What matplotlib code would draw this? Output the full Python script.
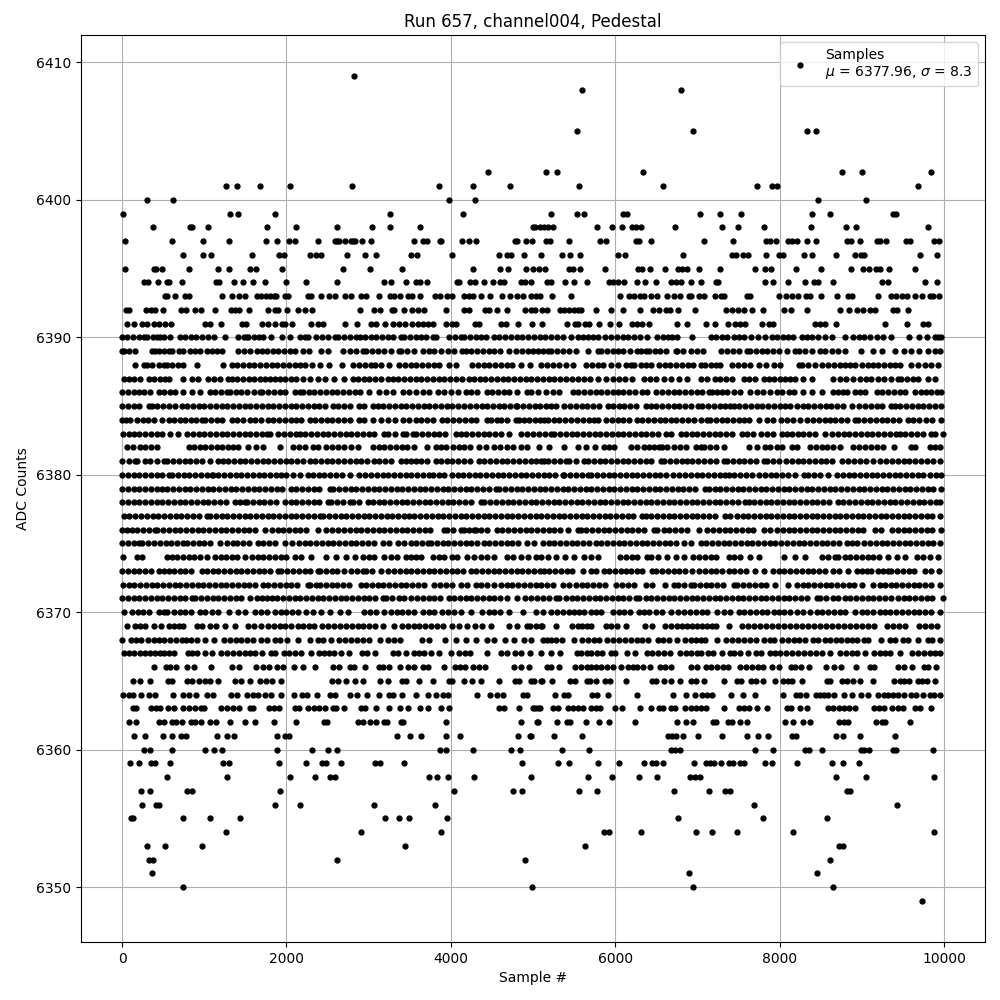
import matplotlib
matplotlib.use('Agg')
import matplotlib.pyplot as plt

# sample numbers found at each ADC count
s6409 = [2820]
s6408 = [5596, 6796]
s6405 = [5535, 6941, 8335, 8444]
s6402 = [4456, 5159, 5293, 6335, 8759, 9002, 9838]
s6401 = [1269, 1402, 1681, 2044, 2796, 3850, 4274, 4723, 5560, 6578, 7729, 7911, 7972, 9680]
s6400 = [299, 614, 3983, 4299, 8468, 9050]
s6399 = [8, 1317, 1414, 1862, 3256, 4153, 5220, 5535, 5620, 6093, 6141, 7026, 7269, 7535, 8396, 8614, 9377, 9414]
s6398 = [372, 832, 856, 1050, 1765, 2117, 2614, 3038, 3256, 3620, 5002, 5026, 5086, 5136, 5177, 5244, 5778, 5960, 6081, 6202, 6250, 6311, 6723, 7305, 7499, 7814, 8384, 8808, 8929, 9802]
s6397 = [32, 602, 990, 1305, 1753, 1887, 2032, 2105, 2384, 2590, 2614, 2638, 2711, 2784, 2808, 2832, 2917, 3026, 3547, 3656, 3705, 3862, 3886, 4141, 4226, 4311, 4783, 4808, 4917, 4989, 5160, 5208, 5438, 5814, 5887, 6250, 6287, 6432, 7075, 7438, 7838, 7887, 7959, 8105, 8153, 8214, 8335, 8444, 8820, 8868, 8977, 9183, 9220, 9293, 9535, 9583, 9874, 9935]
s6396 = [747, 990, 1087, 1584, 1911, 1972, 2287, 2359, 2420, 2735, 2953, 3087, 3511, 3583, 4020, 4589, 4686, 4735, 4892, 5099, 5354, 5451, 5572, 6032, 6117, 6820, 7426, 7475, 7559, 7620, 7838, 7996, 8044, 8299, 8396, 8687, 8917, 8990, 9026, 9705, 9911]
s6395 = [32, 384, 408, 481, 820, 1172, 1305, 1559, 1632, 1947, 2687, 3014, 3402, 4274, 4602, 4699, 4917, 5002, 5075, 5148, 5438, 5487, 5572, 5875, 6275, 6323, 6420, 6602, 6760, 6808, 6869, 7014, 7269, 7705, 7826, 7899, 8202, 8505, 8868, 9014, 9087, 9171, 9220, 9329, 9644]
s6394 = [263, 311, 432, 541, 566, 723, 1147, 1184, 1366, 1475, 1596, 1741, 1996, 2238, 2614, 3184, 3272, 3450, 3571, 3620, 3705, 4080, 4105, 4238, 4299, 4408, 4517, 4602, 4650, 4856, 4905, 4978, 5172, 5220, 5390, 5499, 5657, 5923, 5972, 6032, 6105, 6263, 6360, 6493, 6675, 6735, 6796, 6917, 7038, 7220, 7256, 7826, 7923, 8105, 8311, 8420, 8468, 8650, 9244, 9317, 9765, 9911]
s6393 = [517, 541, 638, 760, 808, 1220, 1341, 1426, 1499, 1644, 1693, 1753, 1802, 1850, 1875, 1984, 2020, 2262, 2299, 2420, 2517, 2590, 2711, 2784, 2905, 2965, 3123, 3256, 3305, 3377, 3474, 3523, 3620, 3802, 3874, 3959, 4008, 4165, 4226, 4274, 4371, 4472, 4626, 4723, 4808, 4880, 4978, 5038, 5087, 5232, 5463, 6057, 6166, 6226, 6299, 6347, 6432, 6505, 6626, 6711, 6784, 6893, 6917, 7014, 7075, 7208, 7281, 7329, 7608, 7644, 7996, 8081, 8153, 8226, 8323, 8372, 8505, 8699, 8832, 8880, 9196, 9353, 9414, 9487, 9547, 9644, 9729, 9826, 9862, 9935]
s6392 = [44, 81, 287, 347, 396, 493, 711, 772, 881, 966, 1135, 1329, 1378, 1426, 1547, 1778, 1862, 1899, 2008, 2141, 2226, 2311, 2893, 3062, 3135, 3280, 3305, 3426, 3523, 3596, 3668, 3947, 4165, 4226, 4420, 4468, 4565, 4686, 4905, 4978, 5026, 5111, 5172, 5329, 5378, 5438, 5499, 5547, 5584, 5766, 5947, 6093, 6299, 6457, 6529, 6614, 6662, 6760, 6966, 7353, 7426, 7499, 7572, 7668, 7802, 8056, 8141, 8335, 8735, 8844, 8941, 9014, 9099, 9159, 9377, 9426, 9559]
s6391 = [57, 141, 238, 299, 384, 444, 517, 590, 1014, 1075, 1208, 1462, 1511, 1705, 1778, 1862, 1947, 1984, 2068, 2299, 2384, 2444, 2711, 2856, 3026, 3087, 3196, 3293, 3365, 3438, 3523, 3596, 3656, 3717, 3777, 3935, 4008, 4068, 4299, 4347, 4614, 4674, 4820, 4990, 5111, 5414, 5511, 5547, 5632, 5681, 5802, 5935, 6044, 6202, 6263, 6323, 6408, 6747, 6869, 7099, 7208, 7377, 7462, 7523, 7584, 7790, 7875, 7923, 8432, 8493, 8553, 8687, 9280, 9547, 9741, 9802]
s6390 = [0, 60, 130, 200, 263, 303, 370, 430, 465, 505, 586, 707, 770, 840, 905, 975, 1050, 1123, 1252, 1414, 1480, 1515, 1535, 1600, 1660, 1717, 1814, 1947, 2044, 2161, 2220, 2262, 2363, 2430, 2500, 2586, 2626, 2700, 2770, 2848, 2889, 2960, 3030, 3091, 3160, 3230, 3300, 3394, 3434, 3500, 3580, 3636, 3700, 3777, 3818, 3980, 4050, 4120, 4160, 4230, 4300, 4370, 4424, 4525, 4590, 4660, 4730, 4800, 4870, 4940, 5010, 5080, 5150, 5220, 5290, 5360, 5463, 5543, 5604, 5670, 5730, 5786, 5879, 5950, 6020, 6090, 6160, 6230, 6300, 6392, 6513, 6580, 6640, 6695, 6755, 6929, 7160, 7230, 7300, 7361, 7442, 7500, 7563, 7652, 7740, 7826, 7907, 7970, 8040, 8100, 8169, 8270, 8330, 8392, 8473, 8550, 8634, 8796, 8897, 8960, 9030, 9100, 9180, 9260, 9361, 9575, 9693, 9794, 9887, 9930, 9967]
s6389 = [0, 20, 81, 162, 364, 404, 444, 510, 570, 606, 687, 747, 828, 890, 950, 1030, 1090, 1150, 1212, 1414, 1480, 1555, 1636, 1700, 1760, 1830, 1900, 1970, 2040, 2100, 2198, 2279, 2424, 2505, 2687, 2768, 2840, 2929, 2970, 3040, 3110, 3192, 3273, 3373, 3394, 3470, 3555, 3656, 3730, 3800, 3880, 3960, 4040, 4141, 4181, 4250, 4320, 4390, 4460, 4530, 4600, 4707, 4788, 4860, 4937, 5000, 5060, 5120, 5179, 5220, 5290, 5360, 5440, 5523, 5664, 5785, 5826, 5900, 5967, 6028, 6100, 6180, 6270, 6311, 6371, 6412, 6480, 6550, 6620, 6735, 6755, 6830, 6920, 6998, 7066, 7288, 7360, 7430, 7510, 7603, 7644, 7710, 7780, 7850, 7920, 7987, 8088, 8189, 8230, 8310, 8391, 8492, 8553, 8634, 8710, 8795, 8989, 9139, 9240, 9401, 9510, 9603, 9700, 9805, 9887, 9947]
s6388 = [161, 262, 303, 363, 444, 505, 545, 610, 680, 747, 909, 1232, 1333, 1400, 1470, 1540, 1610, 1680, 1750, 1820, 1890, 1960, 2030, 2100, 2160, 2222, 2306, 2403, 2516, 2674, 2807, 2888, 2960, 3030, 3082, 3151, 3244, 3373, 3440, 3510, 3580, 3650, 3720, 3790, 3860, 3979, 4061, 4262, 4330, 4400, 4470, 4540, 4610, 4680, 4750, 4848, 4957, 5099, 5170, 5240, 5310, 5400, 5482, 5644, 5720, 5790, 5846, 5947, 6028, 6129, 6189, 6230, 6311, 6371, 6432, 6533, 6600, 6670, 6740, 6810, 6880, 6950, 7038, 7098, 7170, 7230, 7280, 7422, 7490, 7563, 7636, 7745, 7830, 7927, 8007, 8230, 8270, 8351, 8431, 8512, 8593, 8660, 8730, 8800, 8860, 8916, 8997, 9078, 9139, 9200, 9270, 9340, 9401, 9461, 9603, 9684, 9765, 9840, 9927]
s6387 = [20, 80, 141, 222, 323, 390, 460, 520, 565, 747, 848, 929, 1050, 1120, 1190, 1292, 1333, 1400, 1470, 1540, 1610, 1680, 1740, 1797, 1858, 1919, 1979, 2050, 2120, 2201, 2282, 2383, 2464, 2577, 2706, 2807, 2868, 2940, 3010, 3080, 3150, 3232, 3292, 3360, 3430, 3500, 3570, 3640, 3710, 3780, 3850, 3920, 3990, 4060, 4130, 4222, 4282, 4350, 4420, 4490, 4560, 4630, 4700, 4770, 4840, 4910, 4980, 5050, 5120, 5190, 5260, 5330, 5400, 5470, 5550, 5624, 5693, 5786, 5886, 5967, 6040, 6120, 6210, 6351, 6420, 6500, 6593, 6682, 6770, 6868, 7038, 7119, 7208, 7280, 7350, 7421, 7563, 7624, 7704, 7805, 7866, 7930, 8000, 8070, 8130, 8189, 8290, 8391, 8654, 8730, 8810, 8896, 8977, 9050, 9118, 9198, 9270, 9350, 9442, 9482, 9550, 9620, 9684, 9805, 9886]
s6386 = [0, 70, 141, 202, 270, 340, 444, 505, 580, 646, 747, 848, 949, 1070, 1131, 1200, 1272, 1313, 1380, 1450, 1520, 1600, 1676, 1704, 1777, 1850, 1920, 1979, 2100, 2161, 2201, 2270, 2340, 2410, 2480, 2550, 2620, 2690, 2760, 2830, 2900, 3009, 3131, 3210, 3292, 3413, 3490, 3570, 3656, 3737, 3838, 3920, 4000, 4093, 4181, 4250, 4320, 4444, 4504, 4570, 4646, 4706, 4807, 4929, 4977, 5058, 5159, 5240, 5321, 5482, 5550, 5620, 5690, 5760, 5830, 5900, 5967, 6028, 6100, 6170, 6240, 6331, 6383, 6492, 6573, 6640, 6710, 6780, 6850, 6920, 6990, 7060, 7139, 7179, 7240, 7300, 7361, 7440, 7523, 7644, 7725, 7800, 7880, 7967, 8028, 8109, 8177, 8290, 8400, 8513, 8654, 8714, 8775, 8815, 8916, 8980, 9038, 9179, 9250, 9320, 9390, 9460, 9530, 9644, 9724, 9785, 9846, 9910, 9967]
s6385 = [0, 70, 140, 210, 323, 363, 430, 500, 565, 646, 727, 788, 860, 930, 1000, 1070, 1140, 1210, 1280, 1350, 1420, 1490, 1560, 1630, 1700, 1770, 1840, 1910, 1980, 2050, 2120, 2190, 2260, 2330, 2400, 2470, 2565, 2626, 2700, 2770, 2888, 2949, 3050, 3111, 3180, 3250, 3320, 3390, 3460, 3530, 3600, 3670, 3740, 3810, 3880, 3950, 4020, 4090, 4160, 4230, 4300, 4383, 4444, 4510, 4580, 4650, 4720, 4787, 4807, 4880, 4950, 5020, 5090, 5160, 5220, 5280, 5381, 5450, 5520, 5590, 5660, 5730, 5800, 5907, 5967, 6040, 6110, 6180, 6250, 6371, 6432, 6500, 6570, 6640, 6710, 6780, 6850, 6920, 7002, 7058, 7130, 7200, 7270, 7340, 7401, 7442, 7510, 7580, 7650, 7720, 7790, 7860, 7930, 8000, 8070, 8129, 8209, 8280, 8350, 8420, 8490, 8560, 8630, 8700, 8770, 8876, 8965, 9038, 9110, 9180, 9250, 9361, 9401, 9470, 9540, 9610, 9680, 9750, 9820, 9890, 9967]
s6384 = [0, 50, 101, 181, 250, 320, 390, 484, 565, 630, 700, 770, 840, 900, 969, 1010, 1080, 1150, 1220, 1333, 1393, 1466, 1555, 1616, 1696, 1770, 1840, 1910, 1980, 2050, 2120, 2181, 2282, 2350, 2420, 2490, 2560, 2630, 2700, 2770, 2888, 2949, 3050, 3151, 3232, 3320, 3413, 3494, 3570, 3640, 3710, 3780, 3898, 3959, 4030, 4100, 4170, 4240, 4310, 4444, 4484, 4565, 4605, 4680, 4787, 4827, 4888, 4949, 5020, 5090, 5139, 5179, 5250, 5320, 5390, 5460, 5535, 5604, 5680, 5745, 5785, 5886, 5960, 6030, 6100, 6170, 6270, 6331, 6400, 6470, 6540, 6610, 6674, 6735, 6810, 6880, 6957, 7038, 7119, 7159, 7230, 7300, 7361, 7430, 7500, 7570, 7624, 7745, 7846, 7919, 8015, 8088, 8161, 8250, 8330, 8411, 8480, 8550, 8613, 8674, 8750, 8820, 8916, 8957, 9030, 9100, 9170, 9240, 9310, 9380, 9450, 9562, 9623, 9697, 9785, 9860, 9967]
s6383 = [12, 81, 141, 210, 280, 350, 420, 490, 585, 686, 787, 860, 930, 1000, 1070, 1140, 1210, 1280, 1350, 1420, 1490, 1560, 1630, 1700, 1757, 1805, 1898, 1970, 2040, 2120, 2161, 2230, 2300, 2370, 2440, 2510, 2580, 2650, 2720, 2790, 2860, 2930, 3000, 3070, 3191, 3232, 3320, 3414, 3454, 3535, 3575, 3650, 3720, 3790, 3860, 3930, 4060, 4120, 4190, 4260, 4330, 4400, 4470, 4540, 4610, 4706, 4848, 4929, 5000, 5070, 5140, 5220, 5260, 5330, 5400, 5470, 5540, 5610, 5680, 5750, 5820, 5890, 5960, 6030, 6100, 6170, 6240, 6310, 6380, 6450, 6520, 6614, 6682, 6795, 6856, 6930, 7000, 7070, 7140, 7210, 7280, 7350, 7420, 7543, 7603, 7680, 7770, 7846, 7918, 8028, 8088, 8149, 8220, 8290, 8360, 8430, 8553, 8634, 8710, 8780, 8850, 8920, 8990, 9060, 9130, 9200, 9270, 9340, 9421, 9462, 9530, 9600, 9670, 9740, 9845, 9886, 9987]
s6382 = [60, 130, 222, 283, 350, 424, 808, 880, 949, 1010, 1080, 1150, 1220, 1290, 1350, 1414, 1535, 1628, 1717, 1919, 2080, 2150, 2230, 2323, 2383, 2484, 2560, 2630, 2700, 2780, 2868, 3050, 3120, 3190, 3260, 3330, 3400, 3470, 3555, 3704, 3825, 3878, 3945, 4029, 4100, 4161, 4234, 4343, 4424, 4525, 4600, 4680, 4760, 4848, 4929, 5078, 5200, 5381, 5551, 5644, 5757, 5866, 5930, 5987, 6189, 6270, 6351, 6412, 6470, 6533, 6573, 6634, 6710, 6790, 6856, 6977, 7038, 7078, 7150, 7230, 7321, 7624, 7725, 7826, 7886, 7967, 8028, 8149, 8209, 8371, 8440, 8513, 8573, 8650, 8735, 8896, 8970, 9040, 9110, 9180, 9260, 9393, 9603, 9644, 9826, 9890, 9947]
s6381 = [0, 80, 161, 181, 282, 343, 420, 505, 545, 620, 690, 760, 830, 900, 970, 1070, 1171, 1232, 1292, 1360, 1430, 1500, 1570, 1640, 1710, 1780, 1850, 1920, 1990, 2060, 2130, 2200, 2282, 2343, 2420, 2490, 2560, 2630, 2700, 2770, 2840, 2910, 2980, 3070, 3131, 3200, 3270, 3393, 3454, 3520, 3575, 3636, 3710, 3818, 3878, 3950, 4020, 4090, 4160, 4230, 4343, 4403, 4480, 4550, 4626, 4686, 4760, 4827, 4908, 4970, 5030, 5091, 5139, 5179, 5250, 5330, 5402, 5442, 5520, 5624, 5664, 5740, 5810, 5880, 5950, 6020, 6090, 6160, 6230, 6300, 6370, 6440, 6553, 6593, 6670, 6740, 6810, 6876, 6937, 7010, 7080, 7150, 7220, 7321, 7361, 7430, 7500, 7570, 7640, 7710, 7805, 7846, 7920, 7987, 8080, 8150, 8220, 8290, 8360, 8430, 8500, 8570, 8640, 8755, 8836, 8910, 8980, 9050, 9139, 9220, 9300, 9370, 9440, 9510, 9580, 9650, 9720, 9790, 9866, 9947]
s6380 = [0, 70, 140, 210, 280, 350, 420, 490, 565, 606, 680, 750, 820, 890, 960, 1030, 1091, 1111, 1171, 1240, 1310, 1380, 1450, 1520, 1590, 1660, 1730, 1800, 1870, 1939, 2000, 2080, 2161, 2262, 2323, 2390, 2460, 2530, 2600, 2670, 2767, 2888, 2960, 3030, 3100, 3170, 3240, 3310, 3380, 3450, 3520, 3590, 3660, 3737, 3777, 3850, 3920, 4020, 4081, 4150, 4220, 4290, 4360, 4430, 4500, 4570, 4640, 4710, 4780, 4850, 4920, 4990, 5060, 5130, 5200, 5270, 5361, 5381, 5450, 5520, 5590, 5664, 5704, 5780, 5850, 5920, 5990, 6060, 6130, 6200, 6270, 6340, 6410, 6480, 6550, 6614, 6706, 6775, 6850, 6920, 6990, 7060, 7130, 7200, 7270, 7341, 7381, 7450, 7520, 7590, 7664, 7745, 7820, 7890, 7960, 8030, 8100, 8189, 8298, 8351, 8420, 8490, 8593, 8694, 8770, 8840, 8910, 8980, 9050, 9120, 9190, 9260, 9330, 9400, 9470, 9540, 9610, 9680, 9745, 9826, 9906, 9967]
s6379 = [0, 70, 140, 210, 280, 350, 420, 485, 545, 620, 690, 760, 830, 900, 970, 1040, 1110, 1180, 1250, 1320, 1390, 1460, 1530, 1600, 1670, 1740, 1810, 1880, 1950, 2060, 2120, 2190, 2260, 2330, 2400, 2525, 2565, 2640, 2710, 2780, 2850, 2920, 2990, 3060, 3130, 3200, 3270, 3340, 3410, 3480, 3550, 3620, 3690, 3760, 3830, 3900, 3970, 4040, 4110, 4180, 4250, 4320, 4390, 4460, 4545, 4585, 4660, 4730, 4800, 4870, 4940, 5010, 5080, 5150, 5220, 5290, 5360, 5430, 5500, 5570, 5640, 5710, 5780, 5850, 5920, 5990, 6060, 6130, 6200, 6270, 6340, 6410, 6480, 6550, 6620, 6690, 6760, 6830, 6900, 6970, 7098, 7139, 7210, 7280, 7350, 7420, 7490, 7560, 7630, 7700, 7770, 7840, 7910, 7980, 8050, 8120, 8190, 8260, 8330, 8400, 8470, 8540, 8610, 8680, 8750, 8820, 8890, 8960, 9030, 9100, 9170, 9240, 9310, 9380, 9450, 9520, 9590, 9660, 9730, 9800, 9870, 9967]
s6378 = [0, 70, 140, 210, 280, 350, 420, 490, 560, 630, 700, 770, 840, 910, 980, 1050, 1120, 1190, 1260, 1373, 1434, 1494, 1515, 1590, 1660, 1730, 1800, 1878, 1979, 2050, 2120, 2190, 2260, 2330, 2400, 2505, 2545, 2620, 2690, 2767, 2807, 2880, 2989, 3050, 3120, 3190, 3260, 3330, 3400, 3470, 3540, 3610, 3680, 3750, 3820, 3890, 3960, 4030, 4100, 4170, 4240, 4363, 4403, 4480, 4550, 4620, 4690, 4760, 4830, 4900, 4970, 5040, 5110, 5180, 5250, 5320, 5390, 5460, 5530, 5600, 5670, 5740, 5810, 5880, 5950, 6020, 6090, 6160, 6230, 6300, 6370, 6440, 6510, 6580, 6650, 6720, 6790, 6860, 6930, 7000, 7070, 7140, 7210, 7280, 7350, 7420, 7490, 7583, 7623, 7684, 7760, 7830, 7900, 7970, 8040, 8110, 8180, 8250, 8320, 8390, 8460, 8530, 8600, 8714, 8775, 8850, 8920, 8990, 9060, 9130, 9200, 9270, 9340, 9410, 9480, 9550, 9620, 9690, 9760, 9830, 9900, 9947]
s6377 = [20, 90, 160, 230, 300, 370, 440, 510, 580, 650, 720, 790, 860, 930, 1030, 1070, 1140, 1210, 1280, 1350, 1420, 1490, 1560, 1630, 1700, 1770, 1840, 1910, 1980, 2050, 2120, 2190, 2260, 2330, 2403, 2444, 2520, 2590, 2660, 2730, 2800, 2870, 2940, 3010, 3080, 3150, 3220, 3290, 3360, 3430, 3494, 3555, 3630, 3700, 3770, 3840, 3910, 3980, 4050, 4120, 4190, 4260, 4330, 4400, 4470, 4540, 4610, 4680, 4750, 4820, 4890, 4960, 5030, 5100, 5170, 5240, 5310, 5380, 5450, 5520, 5590, 5660, 5730, 5800, 5870, 5940, 6010, 6080, 6150, 6220, 6331, 6371, 6440, 6510, 6580, 6650, 6720, 6790, 6860, 6930, 7000, 7070, 7140, 7210, 7341, 7401, 7480, 7550, 7620, 7690, 7760, 7830, 7900, 7970, 8040, 8110, 8180, 8250, 8320, 8390, 8460, 8530, 8600, 8670, 8740, 8810, 8880, 8950, 9020, 9090, 9160, 9230, 9300, 9370, 9440, 9510, 9580, 9650, 9720, 9790, 9860, 9947]
s6376 = [0, 60, 121, 181, 250, 330, 404, 424, 500, 570, 640, 710, 780, 850, 920, 990, 1060, 1130, 1200, 1270, 1340, 1410, 1480, 1550, 1620, 1737, 1818, 1898, 1959, 2030, 2100, 2170, 2240, 2383, 2484, 2560, 2630, 2700, 2770, 2840, 2910, 2980, 3050, 3120, 3190, 3260, 3330, 3400, 3470, 3540, 3610, 3680, 3750, 3919, 3959, 4030, 4120, 4161, 4220, 4282, 4303, 4370, 4440, 4565, 4626, 4700, 4770, 4840, 4910, 4980, 5050, 5120, 5190, 5260, 5330, 5422, 5543, 5583, 5644, 5720, 5790, 5860, 5930, 6000, 6070, 6140, 6210, 6280, 6350, 6472, 6513, 6590, 6660, 6730, 6800, 6870, 7018, 7119, 7190, 7260, 7330, 7400, 7470, 7540, 7610, 7680, 7805, 7886, 7967, 8040, 8110, 8180, 8250, 8320, 8390, 8460, 8530, 8600, 8670, 8740, 8810, 8880, 8950, 9020, 9159, 9232, 9369, 9440, 9510, 9580, 9650, 9720, 9790, 9860, 9967]
s6375 = [0, 70, 140, 202, 242, 320, 390, 460, 530, 600, 670, 747, 788, 860, 930, 1000, 1070, 1191, 1272, 1353, 1393, 1470, 1540, 1656, 1717, 1790, 1860, 1979, 2072, 2150, 2220, 2290, 2360, 2430, 2500, 2570, 2640, 2710, 2780, 2850, 2920, 2990, 3060, 3171, 3252, 3353, 3430, 3514, 3575, 3650, 3716, 3757, 3830, 3900, 3970, 4040, 4110, 4180, 4250, 4320, 4403, 4464, 4540, 4610, 4680, 4750, 4820, 4929, 5010, 5119, 5190, 5260, 5330, 5402, 5470, 5540, 5604, 5684, 5760, 5830, 5900, 5970, 6040, 6110, 6180, 6250, 6320, 6390, 6460, 6530, 6600, 6670, 6740, 6836, 6917, 7038, 7110, 7180, 7250, 7320, 7390, 7460, 7530, 7600, 7670, 7740, 7810, 7880, 7950, 8020, 8090, 8160, 8230, 8300, 8370, 8440, 8510, 8580, 8650, 8720, 8815, 8876, 8937, 9026, 9100, 9170, 9240, 9310, 9380, 9450, 9520, 9590, 9660, 9730, 9800, 9870, 9947]
s6374 = [8, 181, 242, 545, 606, 666, 740, 810, 880, 950, 1030, 1131, 1200, 1270, 1340, 1393, 1494, 1575, 1650, 1720, 1790, 1860, 1930, 2000, 2100, 2181, 2302, 2484, 2605, 2727, 2828, 2929, 3000, 3070, 3191, 3272, 3350, 3454, 3515, 3580, 3636, 3777, 3850, 3920, 4020, 4069, 4201, 4280, 4363, 4444, 4525, 4686, 4760, 4848, 4937, 5038, 5098, 5187, 5280, 5389, 5503, 5624, 5700, 5785, 6060, 6130, 6200, 6270, 6391, 6440, 6520, 6634, 6735, 6836, 6945, 7020, 7090, 7160, 7220, 7381, 7450, 7520, 7644, 7745, 8048, 8189, 8310, 8512, 8590, 8674, 8714, 8790, 8860, 8930, 9000, 9070, 9140, 9210, 9321, 9430, 9523, 9672, 9750, 9830, 9927]
s6373 = [0, 70, 140, 210, 280, 350, 444, 505, 565, 626, 700, 770, 840, 969, 1030, 1100, 1170, 1240, 1310, 1380, 1450, 1520, 1590, 1660, 1730, 1800, 1898, 1939, 2010, 2080, 2150, 2220, 2290, 2383, 2404, 2480, 2550, 2620, 2706, 2787, 2860, 2929, 2969, 3040, 3151, 3232, 3310, 3380, 3450, 3520, 3590, 3660, 3730, 3800, 3870, 3940, 4010, 4080, 4150, 4242, 4303, 4380, 4450, 4520, 4590, 4660, 4730, 4800, 4870, 4940, 5010, 5080, 5139, 5200, 5270, 5340, 5410, 5480, 5604, 5704, 5765, 5858, 5930, 6000, 6070, 6129, 6189, 6260, 6330, 6452, 6493, 6570, 6640, 6710, 6780, 6850, 6937, 7018, 7090, 7160, 7220, 7300, 7380, 7450, 7520, 7590, 7704, 7813, 7918, 7987, 8056, 8130, 8200, 8270, 8340, 8410, 8480, 8550, 8646, 8727, 8836, 8937, 8997, 9060, 9118, 9200, 9260, 9321, 9361, 9430, 9500, 9570, 9640, 9765, 9838, 9939]
s6372 = [12, 80, 150, 220, 290, 360, 430, 500, 570, 640, 710, 780, 850, 920, 990, 1060, 1130, 1200, 1270, 1340, 1410, 1480, 1550, 1620, 1716, 1777, 1850, 1920, 1990, 2060, 2130, 2262, 2282, 2363, 2403, 2480, 2550, 2620, 2690, 2760, 2908, 2969, 3040, 3110, 3180, 3250, 3320, 3390, 3460, 3530, 3600, 3676, 3797, 3870, 3940, 4010, 4120, 4201, 4303, 4363, 4440, 4524, 4605, 4680, 4750, 4820, 4890, 4960, 5030, 5100, 5170, 5240, 5361, 5442, 5520, 5590, 5660, 5730, 5800, 5870, 6008, 6088, 6160, 6230, 6371, 6444, 6601, 6715, 6763, 6840, 6917, 6957, 7030, 7100, 7170, 7240, 7310, 7442, 7482, 7560, 7630, 7700, 7770, 7840, 7947, 8108, 8209, 8280, 8350, 8420, 8490, 8560, 8630, 8700, 8770, 8840, 8910, 8997, 9139, 9220, 9280, 9350, 9420, 9490, 9560, 9630, 9700, 9770, 9840, 9947]
s6371 = [0, 70, 140, 210, 280, 350, 420, 490, 560, 630, 700, 770, 848, 888, 960, 1030, 1100, 1170, 1240, 1310, 1380, 1450, 1555, 1636, 1700, 1757, 1818, 1890, 1960, 2030, 2100, 2170, 2240, 2310, 2380, 2450, 2520, 2590, 2660, 2730, 2800, 2870, 2940, 3010, 3080, 3171, 3211, 3290, 3373, 3434, 3515, 3590, 3660, 3730, 3800, 3870, 3979, 4040, 4110, 4180, 4250, 4320, 4390, 4460, 4530, 4600, 4686, 4807, 4908, 4980, 5050, 5120, 5190, 5280, 5321, 5400, 5470, 5540, 5610, 5680, 5750, 5820, 5890, 5960, 6030, 6100, 6170, 6250, 6290, 6370, 6440, 6510, 6580, 6650, 6720, 6790, 6860, 6930, 7000, 7070, 7140, 7210, 7280, 7350, 7420, 7490, 7560, 7630, 7700, 7770, 7840, 7910, 7980, 8050, 8120, 8190, 8260, 8330, 8452, 8492, 8570, 8654, 8714, 8790, 8860, 8930, 9000, 9070, 9140, 9210, 9280, 9361, 9440, 9510, 9580, 9650, 9720, 9790, 9860, 9987]
s6370 = [20, 121, 190, 260, 330, 444, 505, 545, 626, 700, 770, 840, 949, 1010, 1090, 1171, 1305, 1414, 1494, 1616, 1696, 1757, 1858, 1930, 2000, 2070, 2140, 2242, 2323, 2424, 2525, 2646, 2747, 2949, 3020, 3090, 3191, 3270, 3340, 3410, 3480, 3555, 3656, 3730, 3797, 3898, 3970, 4040, 4120, 4242, 4383, 4460, 4530, 4600, 4707, 4881, 5038, 5119, 5220, 5290, 5361, 5442, 5500, 5563, 5624, 5700, 5770, 5826, 5967, 6048, 6109, 6180, 6290, 6351, 6412, 6492, 6570, 6674, 6763, 6836, 6910, 6980, 7050, 7120, 7240, 7321, 7400, 7503, 7563, 7640, 7710, 7780, 7850, 7926, 7987, 8048, 8129, 8210, 8290, 8371, 8450, 8520, 8590, 8660, 8730, 8800, 8916, 8997, 9058, 9139, 9220, 9280, 9341, 9420, 9490, 9560, 9630, 9700, 9770, 9840, 9947]
s6369 = [57, 154, 214, 275, 384, 469, 566, 626, 687, 747, 917, 978, 1075, 1147, 1256, 1378, 1535, 1608, 1693, 1778, 1850, 1923, 1984, 2056, 2141, 2202, 2275, 2335, 2432, 2505, 2578, 2650, 2723, 2796, 2868, 2929, 3002, 3074, 3171, 3305, 3402, 3474, 3547, 3608, 3680, 3753, 3826, 3899, 4020, 4105, 4202, 4299, 4383, 4492, 4711, 4808, 4929, 4966, 5038, 5099, 5111, 5281, 5475, 5547, 5596, 5657, 5705, 5887, 5947, 6020, 6129, 6360, 6444, 6602, 6675, 6747, 6808, 6869, 6929, 6990, 7050, 7111, 7172, 7232, 7390, 7547, 7620, 7693, 7766, 7838, 7911, 7984, 8056, 8129, 8202, 8275, 8347, 8420, 8493, 8565, 8638, 8711, 8784, 8856, 8929, 9002, 9075, 9147, 9305, 9377, 9450, 9523, 9693, 9765, 9838, 9911]
s6368 = [0, 105, 166, 226, 311, 384, 444, 505, 578, 650, 723, 772, 844, 917, 1014, 1123, 1244, 1317, 1390, 1450, 1523, 1596, 1693, 1766, 1862, 1923, 2008, 2141, 2287, 2384, 2444, 2541, 2638, 2711, 2784, 2856, 2929, 3002, 3135, 3232, 3305, 3377, 3644, 3729, 3923, 4068, 4189, 4303, 4444, 4529, 4662, 4771, 4893, 4977, 5123, 5172, 5220, 5281, 5354, 5499, 5596, 5669, 5741, 5802, 5899, 5972, 6044, 6117, 6190, 6263, 6331, 6404, 6517, 6578, 6650, 6747, 6844, 6917, 6978, 7038, 7087, 7244, 7353, 7426, 7499, 7572, 7644, 7717, 7814, 7887, 7935, 8028, 8105, 8178, 8238, 8311, 8404, 8472, 8553, 8614, 8687, 8747, 8820, 8880, 8941, 9026, 9075, 9232, 9341, 9402, 9503, 9563, 9680, 9802, 9850, 9947]
s6367 = [20, 81, 141, 214, 275, 335, 396, 457, 505, 566, 626, 796, 856, 917, 1014, 1099, 1208, 1281, 1353, 1426, 1499, 1559, 1620, 1705, 1814, 1862, 1972, 2032, 2105, 2178, 2299, 2396, 2456, 2517, 2578, 2662, 2759, 2917, 2977, 3074, 3293, 3353, 3450, 3547, 3608, 3668, 3753, 3850, 4004, 4105, 4177, 4238, 4444, 4606, 4686, 4775, 4848, 4966, 5099, 5220, 5329, 5535, 5584, 5657, 5705, 5778, 5838, 5947, 5996, 6141, 6238, 6384, 6444, 6517, 6590, 6663, 6784, 6856, 6917, 6990, 7038, 7123, 7184, 7297, 7402, 7450, 7523, 7620, 7717, 7778, 7887, 7947, 8008, 8081, 8153, 8226, 8299, 8372, 8444, 8517, 8614, 8735, 8808, 8880, 8941, 9041, 9147, 9220, 9280, 9341, 9462, 9608, 9680, 9753, 9826, 9887, 9947]
s6366 = [384, 529, 578, 650, 784, 869, 1087, 1341, 1426, 1632, 1717, 1790, 1887, 1959, 2093, 2202, 2347, 2565, 2638, 2771, 2820, 2953, 3123, 3171, 3244, 3377, 3474, 3547, 3656, 3717, 3911, 4056, 4117, 4177, 4274, 4347, 4420, 4771, 4856, 4953, 5171, 5220, 5317, 5511, 5584, 5657, 5705, 5766, 5826, 5899, 5972, 6069, 6154, 6214, 6263, 6335, 6420, 6541, 6602, 6675, 6917, 6990, 7099, 7160, 7244, 7317, 7378, 7523, 7596, 7668, 7741, 7802, 7911, 7996, 8141, 8190, 8262, 8359, 8565, 8662, 8747, 8929, 9099, 9147, 9438, 9511, 9608, 9753, 9802, 9899]
s6365 = [129, 214, 335, 553, 602, 784, 856, 941, 1014, 1075, 1172, 1378, 1450, 1559, 1681, 1753, 1826, 1935, 2553, 2626, 2723, 2832, 2929, 3135, 3232, 3402, 3450, 3608, 3777, 3983, 4008, 4165, 4262, 4371, 4585, 4783, 4832, 4977, 5014, 5099, 5111, 5232, 5450, 5511, 5657, 5693, 5766, 5875, 5935, 6129, 6444, 6493, 6590, 6675, 6784, 6917, 6978, 7075, 7329, 7487, 7535, 7656, 7717, 7802, 7947, 8044, 8105, 8153, 8275, 8578, 8614, 8759, 8820, 8893, 8977, 9135, 9389, 9462, 9511, 9571, 9680, 9729, 9790, 9887]
s6364 = [8, 81, 129, 226, 323, 396, 614, 735, 808, 901, 1038, 1111, 1329, 1402, 1523, 1596, 1656, 1741, 1814, 1939, 2093, 2190, 2250, 2372, 2529, 2590, 2771, 2856, 2977, 3123, 3244, 3293, 3402, 3571, 3717, 3814, 3899, 3971, 4323, 4480, 4565, 4638, 4880, 4929, 5269, 5378, 5426, 5717, 5778, 5911, 6263, 6699, 6856, 6966, 7050, 7111, 7172, 7414, 7559, 7705, 8044, 8202, 8250, 8323, 8444, 8493, 8541, 8590, 8662, 8784, 8880, 8990, 9075, 9196, 9269, 9321, 9382, 9442, 9511, 9596, 9664, 9745, 9826, 9874, 9947]
s6363 = [129, 166, 347, 408, 457, 553, 626, 735, 808, 881, 966, 1002, 1208, 1281, 1353, 1426, 1559, 1596, 1790, 1850, 1911, 2105, 2153, 2262, 2335, 2396, 2468, 2565, 2602, 2699, 2905, 2953, 3087, 3252, 3377, 3474, 3620, 3717, 3886, 3983, 4589, 4650, 4832, 5002, 5026, 5063, 5086, 5245, 5305, 5426, 5487, 5547, 5608, 5705, 5766, 5814, 5996, 6081, 6299, 6432, 6529, 6578, 6675, 6723, 6844, 6917, 6978, 7038, 7099, 7321, 7511, 7572, 7632, 7729, 7850, 8093, 8141, 8250, 8335, 8590, 8650, 8723, 8784, 8844, 8917, 9147, 9208, 9272, 9365, 9438, 9499, 9644, 9705, 9838]
s6362 = [81, 166, 444, 505, 602, 650, 723, 844, 892, 966, 1075, 1147, 1317, 1499, 1620, 1850, 2117, 2456, 2493, 2868, 2929, 3014, 3087, 3184, 3220, 3390, 3414, 3947, 4856, 5051, 5062, 5293, 5414, 5451, 5644, 5802, 5923, 6238, 6747, 6856, 6941, 7184, 7232, 7378, 7426, 7523, 7608, 8068, 8165, 8287, 8372, 8723, 8784, 8832, 9171, 9244, 9280, 9583]
s6361 = [141, 275, 493, 602, 711, 772, 1159, 1281, 1366, 1887, 1984, 2032, 3341, 3499, 3632, 3935, 4117, 4820, 4966, 4978, 5257, 5596, 6638, 6687, 6735, 6820, 7002, 7305, 7608, 7741, 7862, 8153, 8202, 8687, 8771, 8978, 9398]
s6360 = [263, 335, 602, 1014, 1123, 1220, 1887, 2311, 2505, 2614, 3874, 3947, 4274, 4735, 4844, 5354, 5681, 6675, 6723, 6784, 7705, 7923, 8311, 8359, 8517, 8990, 9026, 9087, 9377, 9414, 9862]
s6359 = [93, 206, 347, 396, 578, 1232, 1305, 1911, 2238, 2432, 2481, 2662, 3074, 3135, 3426, 4868, 5305, 5438, 5790, 6044, 6347, 6444, 6493, 6578, 6953, 7099, 7147, 7196, 7281, 7390, 7438, 7523, 7572, 7826, 7911, 8214, 8638, 8771, 8965]
s6358 = [541, 1281, 2044, 2347, 2529, 2590, 3729, 3826, 3971, 4286, 4978, 5669, 5960, 6287, 6505, 6905, 6966, 7026, 8687, 9050, 9874]
s6357 = [226, 335, 784, 856, 1923, 4044, 4759, 4868, 5560, 5778, 6711, 7135, 7341, 7402, 8820, 8856]
s6356 = [238, 416, 444, 1862, 2165, 3062, 3802, 7693, 9426]
s6355 = [105, 129, 735, 1075, 1438, 3196, 3365, 3487, 3959, 6760, 7802, 8578]
s6354 = [1269, 2905, 3886, 5863, 5923, 6311, 6978, 7172, 7487, 8165, 9874]
s6353 = [299, 517, 978, 3438, 5632, 8723, 8771]
s6352 = [323, 372, 2614, 4905, 8614]
s6351 = [360, 6893, 8456]
s6350 = [747, 4989, 6941, 8650]
s6349 = [9729]

adc_levels = [6409, 6408, 6405, 6402, 6401, 6400, 6399, 6398, 6397, 6396, 6395, 6394, 6393, 6392, 6391,
              6390, 6389, 6388, 6387, 6386, 6385, 6384, 6383, 6382, 6381, 6380, 6379, 6378, 6377, 6376,
              6375, 6374, 6373, 6372, 6371, 6370, 6369, 6368, 6367, 6366, 6365, 6364, 6363, 6362, 6361,
              6360, 6359, 6358, 6357, 6356, 6355, 6354, 6353, 6352, 6351, 6350, 6349]
level_samples = [s6409, s6408, s6405, s6402, s6401, s6400, s6399, s6398, s6397, s6396, s6395, s6394, s6393, s6392, s6391,
                 s6390, s6389, s6388, s6387, s6386, s6385, s6384, s6383, s6382, s6381, s6380, s6379, s6378, s6377, s6376,
                 s6375, s6374, s6373, s6372, s6371, s6370, s6369, s6368, s6367, s6366, s6365, s6364, s6363, s6362, s6361,
                 s6360, s6359, s6358, s6357, s6356, s6355, s6354, s6353, s6352, s6351, s6350, s6349]

sample_no = []
adc = []
for level, samples in zip(adc_levels, level_samples):
    for s in samples:
        sample_no.append(s)
        adc.append(level)

plt.figure(figsize=(10, 10))
plt.plot(sample_no, adc, '.', color='k', markersize=7, label='Samples\n$\\mu$ = 6377.96, $\\sigma$ = 8.3')
plt.xlim(-500, 10499)
plt.ylim(6346, 6412)
plt.grid(True)
plt.title('Run 657, channel004, Pedestal')
plt.xlabel('Sample #')
plt.ylabel('ADC Counts')
plt.legend(loc='upper right')
plt.subplots_adjust(left=0.081, right=0.985, top=0.965, bottom=0.058)
plt.savefig('out.png', dpi=100)
